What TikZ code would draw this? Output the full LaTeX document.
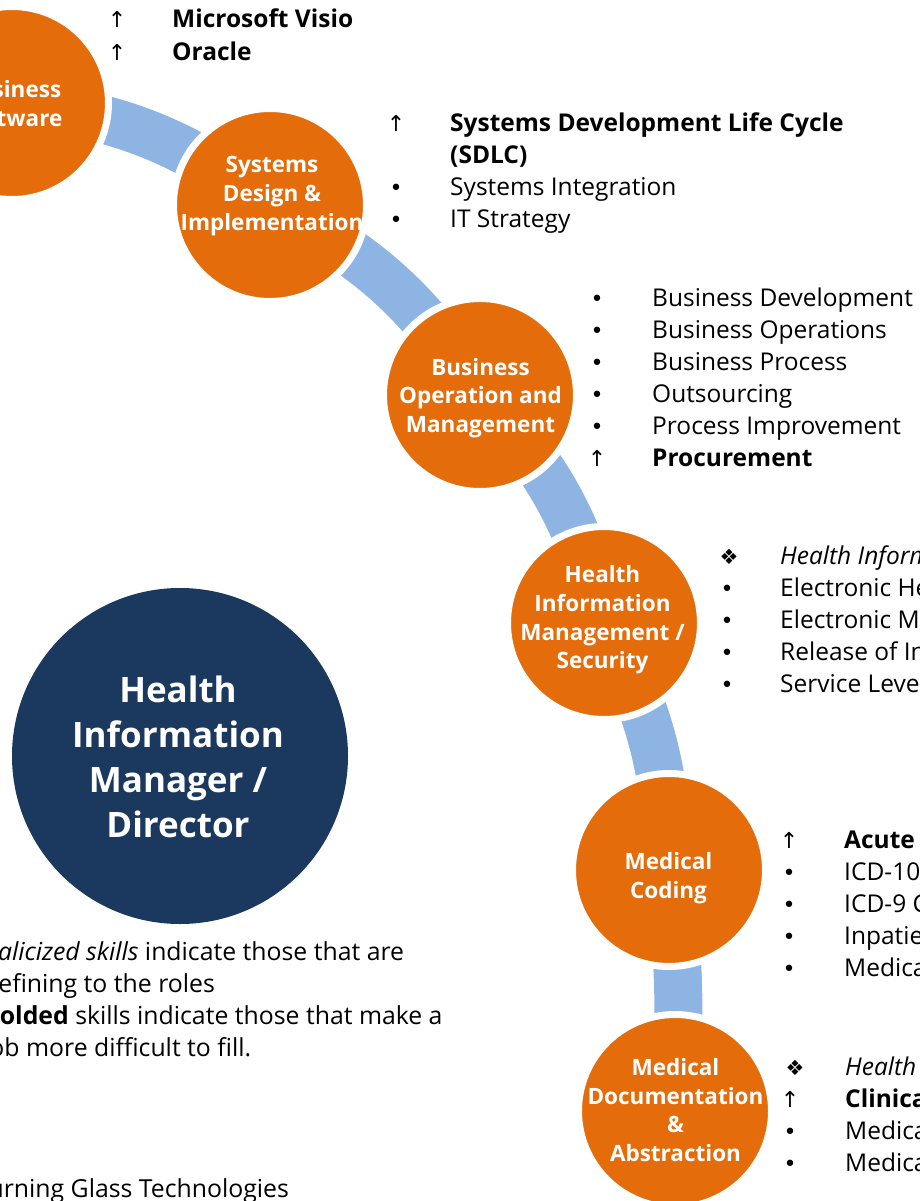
\documentclass[tikz,border=0pt]{standalone}
\usepackage{fontspec}
\setmainfont{Open Sans}
\newfontfamily\symfont{DejaVu Sans}
\usetikzlibrary{backgrounds}
\definecolor{hiorange}{RGB}{228,108,10}
\definecolor{hinavy}{RGB}{27,56,94}
\definecolor{hiblue}{RGB}{142,180,227}
\newcommand\upm{{\symfont\fontsize{22}{22}\selectfont ↑}}
\newcommand\diam{{\symfont\fontsize{21}{21}\selectfont ❖}}
\newcommand\bulm{{\symfont\fontsize{22}{22}\selectfont •}}
\newcommand\skillrow[6]{%
  \node[mk] (#1m) at (#3,#2) {#5};
  \node[skill] (#1) at (#4,#2) {#6};}
\begin{document}
\begin{tikzpicture}[x=1pt,y=-1pt,
  band/.style={draw=hiblue, line width=48pt},
  stage/.style={circle, fill=hiorange, draw=white, line width=7pt, minimum size=193pt, inner sep=0pt},
  stagetext/.style={text=white, font=\bfseries\fontsize{22.5}{28.7}\selectfont, align=center, inner sep=0pt, anchor=center},
  skill/.style={font=\fontsize{24.5}{32}\selectfont, inner sep=0pt, anchor=base west},
  mk/.style={font=\fontsize{24.5}{32}\selectfont, inner sep=0pt, anchor=base},
  legend/.style={font=\fontsize{24.8}{32}\selectfont, inner sep=0pt},
]
\useasboundingbox (0,0) rectangle (920,1201);
\clip (0,0) rectangle (920,1201);

% stage circles
\node[stage] (c1) at (12,103) {};
\node[stage] (c2) at (270,205) {};
\node[stage] (c3) at (480,395) {};
\node[stage] (c4) at (604,623) {};
\node[stage] (c5) at (669,870) {};
\node[stage] (c6) at (675,1111) {};

% connecting band
\begin{pgfonlayer}{background}
\draw[band] (c1.center) to[bend left=15] (c2.center);
\draw[band] (c2.center) to[bend left=15] (c3.center);
\draw[band] (c3.center) to[bend left=15] (c4.center);
\draw[band] (c4.center) to[bend left=13] (c5.center);
\draw[band] (c5.center) to[bend left=5] (c6.center);
\end{pgfonlayer}

% stage labels
\node[stagetext] (t1) at (12,103.5) {Business\\Software};
\node[stagetext] (t2) at (272,196) {Systems\\Design \&\\Implementation};
\node[stagetext] (t3) at (480.5,398) {Business\\Operation and\\Management};
\node[stagetext] (t4) at (602.5,620) {Health\\Information\\Management /\\Security};
\node[stagetext] (t5) at (668.5,878) {Medical\\Coding};
\node[stagetext] (t6) at (675.5,1110) {Medical\\Documentation\\\&\\Abstraction};

% central role
\node[circle, fill=hinavy, minimum size=336pt, inner sep=0pt] (role) at (180,756) {};
\node[text=white, font=\bfseries\fontsize{35}{45}\selectfont, align=center, inner sep=0pt] (roletext) at (178,756.5) {Health\\Information\\Manager /\\Director};

% skill lists
\skillrow{s1a}{28}{117}{172}{\upm}{\textbf{Microsoft Visio}}
\skillrow{s1b}{61}{117}{172}{\upm}{\textbf{Oracle}}

\skillrow{s2a}{132}{396}{450}{\upm}{\textbf{Systems Development Life Cycle}}
\node[skill] (s2a2) at (450,164) {\textbf{(SDLC)}};
\skillrow{s2b}{195}{396}{450}{\bulm}{Systems Integration}
\skillrow{s2c}{227}{396}{450}{\bulm}{IT Strategy}

\skillrow{s3a}{306}{597}{652}{\bulm}{Business Development}
\skillrow{s3b}{338}{597}{652}{\bulm}{Business Operations}
\skillrow{s3c}{370}{597}{652}{\bulm}{Business Process}
\skillrow{s3d}{402}{597}{652}{\bulm}{Outsourcing}
\skillrow{s3e}{434}{597}{652}{\bulm}{Process Improvement}
\skillrow{s3f}{466}{597}{652}{\upm}{\textbf{Procurement}}

\skillrow{s4a}{564}{729}{780}{\diam}{\textit{Health Information}}
\skillrow{s4b}{596}{727}{780}{\bulm}{Electronic Health}
\skillrow{s4c}{628}{727}{780}{\bulm}{Electronic Medical}
\skillrow{s4d}{660}{727}{780}{\bulm}{Release of Information}
\skillrow{s4e}{692}{727}{780}{\bulm}{Service Level}

\skillrow{s5a}{848}{789}{844}{\upm}{\textbf{Acute Care}}
\skillrow{s5b}{880}{789}{844}{\bulm}{ICD-10}
\skillrow{s5c}{912}{789}{844}{\bulm}{ICD-9 Coding}
\skillrow{s5d}{944}{789}{844}{\bulm}{Inpatient Coding}
\skillrow{s5e}{976}{789}{844}{\bulm}{Medical Records}

\skillrow{s6a}{1075}{795}{845}{\diam}{\textit{Health Information}}
\skillrow{s6b}{1107}{790}{845}{\upm}{\textbf{Clinical Documentation}}
\skillrow{s6c}{1139}{790}{845}{\bulm}{Medical Records}
\skillrow{s6d}{1171}{790}{845}{\bulm}{Medical Terminology}

% legend
\node[legend, anchor=base west] (lg1) at (-17,960) {\textit{Italicized skills} indicate those that are};
\node[legend, anchor=base west] (lg2) at (lg1.base west |- 0,992) {defining to the roles};
\node[legend, anchor=base west] (lg3) at (lg1.base west |- 0,1024) {\textbf{Bolded} skills indicate those that make a};
\node[legend, anchor=base west] (lg4) at (lg1.base west |- 0,1056) {job more difficult to fill.};
\node[legend, anchor=base west] (src) at (-122,1197) {Source: Burning Glass Technologies};
\end{tikzpicture}
\end{document}
